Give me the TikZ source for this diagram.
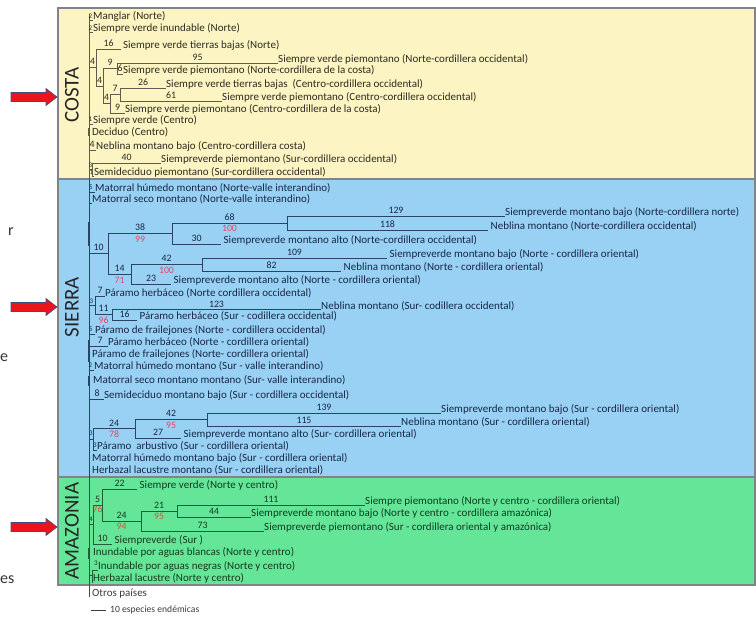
\documentclass[tikz,border=0pt]{standalone}
\usepackage{fontspec}
\setmainfont{Carlito}
\definecolor{costafill}{RGB}{252,244,194}
\definecolor{sierrafill}{RGB}{153,209,245}
\definecolor{amazfill}{RGB}{100,229,152}
\definecolor{boxline}{RGB}{128,132,136}
\definecolor{costaline}{RGB}{95,92,75}
\definecolor{costatext}{RGB}{45,43,32}
\definecolor{sierraline}{RGB}{40,70,100}
\definecolor{sierratext}{RGB}{22,40,68}
\definecolor{amazline}{RGB}{30,95,55}
\definecolor{amaztext}{RGB}{18,60,32}
\definecolor{numred}{RGB}{230,70,105}
\definecolor{amazred}{RGB}{205,85,65}
\definecolor{arrowred}{RGB}{235,20,28}
\definecolor{arrowedge}{RGB}{60,80,130}
\definecolor{outtext}{RGB}{60,60,60}
\newcommand\myleaf{\fontsize{11}{12}\selectfont}
\newcommand\mynum{\fontsize{9.8}{11}\selectfont}
\newcommand\mytiny{\fontsize{7}{8}\selectfont}
\newcommand\myzone{\fontsize{21}{24}\selectfont}
\tikzset{
  leaf/.style={anchor=base west, inner sep=0pt, font=\myleaf},
  num/.style={anchor=base, inner sep=0pt, font=\mynum},
  rnum/.style={num, text=numred},
  tnum/.style={anchor=base, inner sep=0pt, font=\mytiny},
  branch/.style={line width=0.9pt},
  thickmark/.style={line width=2pt},
  zone/.style={rotate=90, inner sep=0pt, font=\myzone, text=black!85},
  frag/.style={anchor=west, inner sep=0pt, font=\fontsize{16}{18}\selectfont, text=black!80},
  redarrow/.style={fill=arrowred, draw=arrowedge, line width=0.6pt},
  zonebox/.style={draw=boxline, line width=1.2pt}
}
\begin{document}
\begin{tikzpicture}[x=1pt,y=-1pt]
\path[use as bounding box] (0,0) rectangle (756,617);
% zone boxes
\path[zonebox, fill=costafill] (58,8) rectangle (755,179);
\path[zonebox, fill=sierrafill] (58,179) rectangle (755,477);
\path[zonebox, fill=amazfill] (58,477) rectangle (755,585);
% zone labels
\node[zone] (costaLbl) at (72,95) {COSTA};
\node[zone] (sierraLbl) at (72,307) {SIERRA};
\node[zone] (amazLbl) at (72,531) {AMAZONIA};
% red arrows
\foreach \yy in {97,307,527}{
  \path[redarrow] (11,\yy-4.5) -- (46,\yy-4.5) -- (46,\yy-8.5) -- (57,\yy) -- (46,\yy+8.5) -- (46,\yy+4.5) -- (11,\yy+4.5) -- cycle;
}
% cut-off fragments
\node[frag] (fr1) at (8,232) {r};
\node[frag] (fr2) at (0,358) {e};
\node[frag] (fr3) at (0,580) {es};

% ================= COSTA =================
\begin{scope}[costaline, every node/.append style={text=costatext}]
\coordinate (cTop) at (89,14);
\coordinate (cBot) at (89,179);
\draw[branch] (cTop) -- (cBot);
\coordinate (cA) at (96,67.5);
\coordinate (cB) at (103,86);
\coordinate (cC) at (117,68.5);
\coordinate (cD) at (110,103.75);
\coordinate (cE) at (120,94.5);
\coordinate (cH) at (92,169.5);
\node[leaf] (c1) at (93,20) {Manglar (Norte)};
\node[leaf] (c2) at (93,32) {Siempre verde inundable (Norte)};
\node[leaf] (c3) at (121,49) {\,Siempre verde tierras bajas (Norte)};
\node[leaf] (c4) at (278,63) {Siempre verde piemontano (Norte-cordillera occidental)};
\node[leaf] (c5) at (123,74) {Siempre verde piemontano (Norte-cordillera de la costa)};
\node[leaf] (c6) at (166,88) {Siempre verde tierras bajas\ \ (Centro-cordillera occidental)};
\node[leaf] (c7) at (222,101) {Siempre verde piemontano (Centro-cordillera occidental)};
\node[leaf] (c8) at (125,113) {Siempre verde piemontano (Centro-cordillera de la costa)};
\node[leaf] (c9) at (93,124) {Siempre verde (Centro)};
\node[leaf] (c10) at (92,136) {Deciduo (Centro)};
\node[leaf] (c11) at (96,150) {Neblina montano bajo (Centro-cordillera costa)};
\node[leaf] (c12) at (161,163) {Siempreverde piemontano (Sur-cordillera occidental)};
\node[leaf] (c13) at (94,176) {Semideciduo piemontano (Sur-cordillera occidental)};
\draw[branch] (cTop |- c1.base west) -- (c1.base west);
\draw[branch] (cTop |- c2.base west) -- (c2.base west);
\draw[branch] (cTop |- cA) -- (cA);
\draw[branch] (cA) |- (c3.base west);
\draw[branch] (cA) |- (cB);
\draw[branch] (cB) |- (cC);
\draw[branch] (cB) |- (cD);
\draw[branch] (cC) |- (c4.base west);
\draw[branch] (cC) |- (c5.base west);
\draw[branch] (cD) |- (cE);
\draw[branch] (cD) |- (c8.base west);
\draw[branch] (cE) |- (c6.base west);
\draw[branch] (cE) |- (c7.base west);
\draw[branch] (cTop |- c9.base west) -- (c9.base west);
\draw[thickmark] (cTop |- c10.north west) -- (cTop |- c10.base west);
\draw[branch] (cTop |- c11.base west) -- (c11.base west);
\draw[branch] (cTop |- cH) -- (cH);
\draw[branch] (cH) |- (c12.base west);
\draw[branch] (cH) |- (c13.base west);
\node[tnum] (cn1) at (90.5,18.5) {2};
\node[tnum] (cn2) at (90.5,30.5) {2};
\node[num] (cn3) at (92.5,65) {4};
\node[num] (cn4) at (108.5,46.5) {16};
\node[num] (cn5) at (99.5,83.5) {4};
\node[num] (cn6) at (110,66) {9};
\node[num] (cn7) at (197.5,60.5) {95};
\node[num] (cn8) at (120,71.5) {6};
\node[num] (cn9) at (106.5,101) {4};
\node[num] (cn10) at (115,92) {7};
\node[num] (cn11) at (143,85.5) {26};
\node[num] (cn12) at (171,98.5) {61};
\node[num] (cn13) at (117.5,110.5) {9};
\node[tnum] (cn14) at (90.5,122) {1};
\node[num] (cn15) at (92,147.5) {4};
\node[num] (cn16) at (126.5,160.5) {40};
\node[tnum] (cn17) at (90.5,167.5) {3};
\node[tnum] (cn18) at (91.5,175) {1};
\end{scope}

% ================= SIERRA =================
\begin{scope}[sierraline, every node/.append style={text=sierratext}]
\coordinate (sTop) at (89,179);
\coordinate (sBot) at (89,477);
\draw[branch] (sTop) -- (sBot);
\coordinate (sN) at (108,253.6);
\coordinate (sA) at (172,233.5);
\coordinate (sC) at (287,223);
\coordinate (sB) at (131,274.25);
\coordinate (sD) at (202,264.5);
\coordinate (sP) at (95,305.5);
\coordinate (sQ) at (112,314.5);
\coordinate (sG) at (93,439.4);
\coordinate (sF) at (135,428.75);
\coordinate (sE) at (207,419.5);
\node[leaf] (s1) at (95,192) {Matorral húmedo montano (Norte-valle interandino)};
\node[leaf] (s2) at (92,203) {Matorral seco montano (Norte-valle interandino)};
\node[leaf] (s3) at (505,216) {Siempreverde montano bajo (Norte-cordillera norte)};
\node[leaf] (s4) at (488,230) {\ Neblina montano (Norte-cordillera occidental)};
\node[leaf] (s5) at (221,244) {\ Siempreverde montano alto (Norte-cordillera occidental)};
\node[leaf] (s6) at (387,258) {\ Siempreverde montano bajo (Norte - cordillera oriental)};
\node[leaf] (s7) at (341,271) {\ Neblina montano (Norte - cordillera oriental)};
\node[leaf] (s8) at (171,284) {\ Siempreverde montano alto (Norte - cordillera oriental)};
\node[leaf] (s9) at (105,296.5) {Páramo herbáceo (Norte cordillera occidental)};
\node[leaf] (s10) at (321,309.5) {Neblina montano (Sur- codillera occidental)};
\node[leaf] (s11) at (137,320) {\ Páramo herbáceo (Sur - codillera occidental)};
\node[leaf] (s12) at (95,334) {Páramo de frailejones (Norte - cordillera occidental)};
\node[leaf] (s13) at (108,346) {Páramo herbáceo (Norte - cordillera oriental)};
\node[leaf] (s14) at (92,358) {Páramo de frailejones (Norte- cordillera oriental)};
\node[leaf] (s15) at (94,370) {Matorral húmedo montano (Sur - valle interandino)};
\node[leaf] (s16) at (93,384) {Matorral seco montano montano (Sur- valle interandino)};
\node[leaf] (s17) at (104,399) {Semideciduo montano bajo (Sur - cordillera occidental)};
\node[leaf] (s18) at (441,413) {Siempreverde montano bajo (Sur - cordillera oriental)};
\node[leaf] (s19) at (401,426) {Neblina montano (Sur - cordillera oriental)};
\node[leaf] (s20) at (181,438) {\ Siempreverde montano alto (Sur- cordillera oriental)};
\node[leaf] (s21) at (97,450) {Páramo\ \ arbustivo (Sur - cordillera oriental)};
\node[leaf] (s22) at (92,462) {Matorral húmedo montano bajo (Sur - cordillera oriental)};
\node[leaf] (s23) at (92,474) {Herbazal lacustre montano (Sur - cordillera oriental)};
\draw[branch] (sTop |- s1.base west) -- (s1.base west);
\draw[branch] (sTop |- s2.base west) -- (s2.base west);
\draw[thickmark] (89,222) -- (89,246);
\draw[branch] (sTop |- sN) -- (sN);
\draw[branch] (sN) |- (sA);
\draw[branch] (sN) |- (sB);
\draw[branch] (sA) |- (sC);
\draw[branch] (sA) |- (s5.base west);
\draw[branch] (sC) |- (s3.base west);
\draw[branch] (sC) |- (s4.base west);
\draw[branch] (sB) |- (sD);
\draw[branch] (sB) |- (s8.base west);
\draw[branch] (sD) |- (s6.base west);
\draw[branch] (sD) |- (s7.base west);
\draw[branch] (sTop |- sP) -- (sP);
\draw[branch] (sP) |- (s9.base west);
\draw[branch] (sP) |- (sQ);
\draw[branch] (sQ) |- (s10.base west);
\draw[branch] (sQ) |- (s11.base west);
\draw[branch] (sTop |- s12.base west) -- (s12.base west);
\draw[branch] (sTop |- s13.base west) -- (s13.base west);
\draw[thickmark] (89,340) -- (89,362);
\draw[branch] (sTop |- s15.base west) -- (s15.base west);
\draw[thickmark] (89,376) -- (89,386);
\draw[branch] (sTop |- s17.base west) -- (s17.base west);
\draw[branch] (sTop |- sG) -- (sG);
\draw[branch] (sG) |- (sF);
\draw[branch] (sG) |- (s21.base west);
\draw[branch] (sF) |- (sE);
\draw[branch] (sF) |- (s20.base west);
\draw[branch] (sE) |- (s18.base west);
\draw[branch] (sE) |- (s19.base west);
\node[tnum] (sn1) at (91,189.5) {5};
\node[num] (sn2) at (98.5,251) {10};
\node[num] (sn3) at (140,231) {38};
\node[rnum] (sn4) at (140,242.5) {99};
\node[num] (sn5) at (229.5,220.5) {68};
\node[rnum] (sn6) at (229.5,232) {100};
\node[num] (sn7) at (396,213.5) {129};
\node[num] (sn8) at (387.5,227.5) {118};
\node[num] (sn9) at (196.5,241.5) {30};
\node[num] (sn10) at (119.5,271.75) {14};
\node[rnum] (sn11) at (119.5,283.25) {71};
\node[num] (sn12) at (166.5,262) {42};
\node[rnum] (sn13) at (166.5,273.5) {100};
\node[num] (sn14) at (294.5,255.5) {109};
\node[num] (sn15) at (271.5,268.5) {82};
\node[num] (sn16) at (151,281.5) {23};
\node[tnum] (sn17) at (91.5,303.5) {3};
\node[num] (sn18) at (100,294) {7};
\node[num] (sn19) at (103.5,312) {11};
\node[rnum] (sn20) at (103.5,323.5) {96};
\node[num] (sn21) at (216.5,308) {123};
\node[num] (sn22) at (124.5,317.5) {16};
\node[tnum] (sn23) at (91,331.5) {5};
\node[num] (sn24) at (100,343.5) {7};
\node[tnum] (sn25) at (90.5,367.5) {2};
\node[num] (sn26) at (97,396.5) {8};
\node[tnum] (sn27) at (91,436) {3};
\node[num] (sn28) at (114,426.25) {24};
\node[rnum] (sn29) at (114,437.75) {78};
\node[num] (sn30) at (171,417) {42};
\node[rnum] (sn31) at (171,428.5) {95};
\node[num] (sn32) at (324,410.5) {139};
\node[num] (sn33) at (304,423.5) {115};
\node[num] (sn34) at (158,435.5) {27};
\node[tnum] (sn35) at (95,448) {3};
\end{scope}

% ================= AMAZONIA =================
\begin{scope}[amazline, every node/.append style={text=amaztext}]
\coordinate (aTop) at (89,477);
\coordinate (aBot) at (89,597);
\draw[branch] (aTop) -- (aBot);
\coordinate (aK) at (93,524.5);
\coordinate (aL) at (102,505);
\coordinate (aM) at (141,521);
\coordinate (aO) at (177,511);
\coordinate (aH) at (92,575.5);
\node[leaf] (a1) at (137,489) {\ Siempre verde (Norte y centro)};
\node[leaf] (a2) at (365,505) {Siempre piemontano (Norte y centro - cordillera oriental)};
\node[leaf] (a3) at (251,517) {Siempreverde montano bajo (Norte y centro - cordillera amazónica)};
\node[leaf] (a4) at (264,531) {Siempreverde piemontano (Sur - cordillera oriental y amazónica)};
\node[leaf] (a5) at (112,544) {\ Siempreverde (Sur )};
\node[leaf] (a6) at (93,556) {Inundable por aguas blancas (Norte y centro)};
\node[leaf] (a7) at (98,570) {Inundable por aguas negras (Norte y centro)};
\node[leaf] (a8) at (93,582) {Herbazal lacustre (Norte y centro)};
\draw[branch] (aTop |- aK) -- (aK);
\draw[branch] (aK) |- (aL);
\draw[branch] (aK) |- (a5.base west);
\draw[branch] (aL) |- (a1.base west);
\draw[branch] (aL) |- (aM);
\draw[branch] (aM) |- (aO);
\draw[branch] (aM) |- (a4.base west);
\draw[branch] (aO) |- (a2.base west);
\draw[branch] (aO) |- (a3.base west);
\draw[thickmark] (89,548) -- (89,559);
\draw[branch] (aTop |- aH) -- (aH);
\draw[branch] (aH) |- (a7.base west);
\draw[branch] (aH) |- (a8.base west);
\node[tnum] (an1) at (91,522) {4};
\node[num] (an2) at (97.5,502.5) {5};
\node[rnum, text=amazred] (an3) at (97.5,513) {76};
\node[num] (an4) at (119.5,486.5) {22};
\node[num] (an5) at (121.5,518.5) {24};
\node[rnum, text=amazred] (an6) at (121.5,530) {94};
\node[num] (an7) at (159,508.5) {21};
\node[rnum, text=amazred] (an8) at (159,520) {95};
\node[num] (an9) at (271,502.5) {111};
\node[num] (an10) at (214,514.5) {44};
\node[num] (an11) at (202.5,528.5) {73};
\node[num] (an12) at (102.5,541.5) {10};
\node[tnum] (an13) at (96,566) {3};
\end{scope}

% ================= outside =================
\node[leaf, text=outtext] (otros) at (92,597) {Otros países};
\coordinate (scaleA) at (91,610);
\coordinate (scaleB) at (106,610);
\draw[branch, outtext] (scaleA) -- (scaleB);
\node[leaf, text=outtext, font=\fontsize{9.6}{11}\selectfont] (scaleLbl) at (110,613) {10 especies endémicas};
\end{tikzpicture}
\end{document}
